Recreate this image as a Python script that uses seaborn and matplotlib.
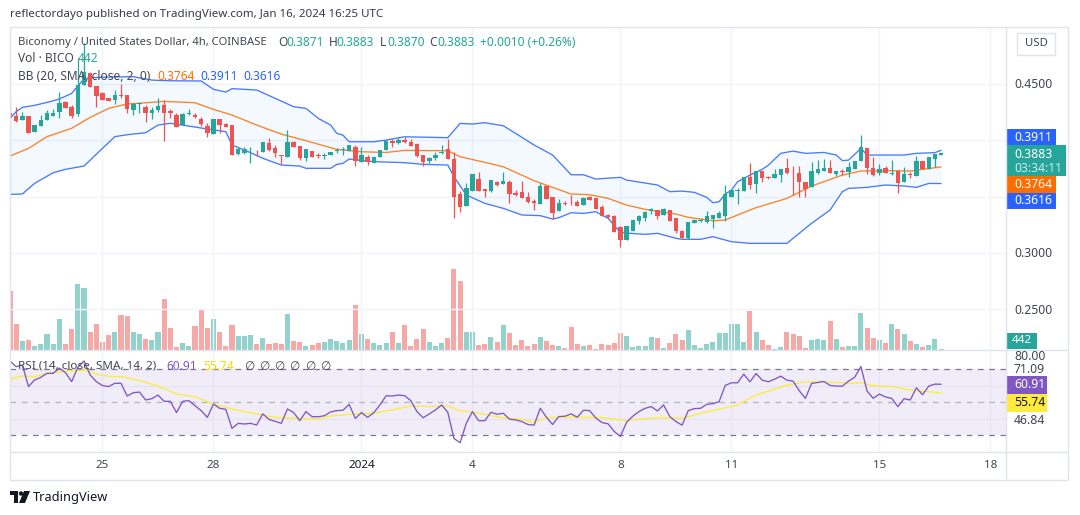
import numpy as np
import pandas as pd
import matplotlib
matplotlib.use("Agg")
import matplotlib.pyplot as plt
from matplotlib.patches import Rectangle, Circle, Polygon
import seaborn as sns

opens = [.4239,.4215,.4180,.4215,.4076,.4126,.4180,.4215,.4251,.4342,.4292,.4233,.4490,.4600,.4481,.4416,.4378,.4357,.4401,.4398,
 .4268,.4322,.4292,.4245,.4268,.4313,.4259,.4224,.4138,.4236,.4227,.4191,.4126,.4058,.4186,.4144,.4135,.3878,.3890,.3919,
 .3908,.3899,.3973,.3928,.3869,.3854,.3984,.3949,.3840,.3905,.3869,.3863,.3872,.3908,.3910,.3907,.3940,.3810,.3851,.3801,
 .3851,.3913,.3993,.3978,.4002,.3984,.3966,.3869,.3816,.3842,.3889,.3922,.3830,.3523,.3416,.3552,.3656,.3564,.3546,.3629,
 .3615,.3629,.3535,.3541,.3496,.3464,.3437,.3594,.3493,.3372,.3443,.3470,.3449,.3428,.3496,.3487,.3405,.3337,.3328,.3230,
 .3118,.3192,.3283,.3313,.3372,.3381,.3337,.3381,.3310,.3198,.3133,.3269,.3286,.3274,.3301,.3313,.3328,.3496,.3549,.3552,
 .3674,.3615,.3727,.3671,.3665,.3694,.3753,.3709,.3709,.3629,.3585,.3712,.3727,.3753,.3700,.3727,.3718,.3745,.3816,.3931,
 .3753,.3709,.3753,.3703,.3727,.3629,.3703,.3682,.3816,.3745,.3833,.3871]
highs = [.4387,.4292,.4254,.4215,.4135,.4224,.4268,.4274,.4428,.4351,.4313,.4727,.4863,.4600,.4481,.4431,.4378,.4446,.4499,.4398,
 .4333,.4330,.4313,.4292,.4372,.4357,.4274,.4245,.4245,.4274,.4239,.4203,.4150,.4186,.4186,.4150,.4135,.3943,.3937,.3943,
 .3914,.3984,.4017,.3958,.3869,.4091,.3996,.3949,.3919,.3908,.3884,.3884,.3896,.3928,.3937,.3958,.3958,.3937,.3869,.3851,
 .3913,.4002,.4008,.4026,.4026,.4011,.3978,.3869,.3854,.3898,.3958,.4011,.3892,.3552,.3617,.3700,.3718,.3564,.3647,.3641,
 .3718,.3647,.3558,.3641,.3541,.3478,.3623,.3603,.3493,.3478,.3458,.3514,.3470,.3496,.3508,.3487,.3425,.3345,.3337,.3239,
 .3239,.3292,.3340,.3375,.3396,.3381,.3399,.3381,.3310,.3204,.3274,.3304,.3307,.3372,.3334,.3372,.3603,.3558,.3579,.3674,
 .3798,.3727,.3727,.3685,.3742,.3745,.3845,.3771,.3771,.3629,.3810,.3824,.3833,.3824,.3727,.3748,.3810,.3816,.4046,.3931,
 .3851,.3789,.3771,.3824,.3736,.3762,.3715,.3860,.3816,.3851,.3878,.3883]
lows = [.4180,.4165,.4180,.4061,.4076,.4126,.4180,.4215,.4200,.4289,.4194,.4215,.4490,.4475,.4298,.4357,.4348,.4322,.4378,.4239,
 .4227,.4245,.4165,.4186,.4254,.3996,.4194,.4115,.4138,.4221,.4194,.4126,.4026,.4058,.4061,.4115,.3872,.3869,.3878,.3795,
 .3860,.3899,.3908,.3848,.3789,.3848,.3937,.3825,.3819,.3854,.3842,.3831,.3872,.3890,.3869,.3907,.3774,.3810,.3780,.3801,
 .3851,.3913,.3943,.3966,.3978,.3952,.3851,.3774,.3801,.3824,.3878,.3833,.3313,.3366,.3416,.3552,.3552,.3499,.3541,.3594,
 .3615,.3446,.3505,.3490,.3446,.3381,.3437,.3481,.3298,.3372,.3422,.3428,.3416,.3428,.3470,.3390,.3328,.3298,.3189,.3056,
 .3118,.3192,.3260,.3286,.3345,.3301,.3337,.3286,.3180,.3133,.3121,.3269,.3271,.3263,.3221,.3313,.3286,.3496,.3434,.3552,
 .3570,.3535,.3632,.3656,.3665,.3632,.3700,.3511,.3493,.3493,.3585,.3700,.3727,.3712,.3685,.3691,.3677,.3745,.3816,.3700,
 .3685,.3691,.3709,.3691,.3535,.3629,.3668,.3682,.3745,.3745,.3762,.3870]
closes = [.4194,.4174,.4215,.4061,.4135,.4180,.4239,.4239,.4327,.4289,.4215,.4490,.4602,.4475,.4395,.4357,.4348,.4401,.4395,.4280,
 .4322,.4330,.4245,.4268,.4304,.4245,.4245,.4120,.4233,.4242,.4203,.4144,.4067,.4186,.4135,.4120,.3872,.3919,.3919,.3925,
 .3902,.3984,.3914,.3884,.3863,.3984,.3943,.3842,.3919,.3854,.3863,.3869,.3896,.3914,.3919,.3958,.3819,.3869,.3804,.3851,
 .3913,.3996,.3978,.4002,.3987,.3952,.3860,.3810,.3842,.3869,.3895,.3833,.3496,.3410,.3573,.3700,.3552,.3549,.3647,.3603,
 .3638,.3526,.3511,.3490,.3455,.3446,.3594,.3481,.3357,.3440,.3437,.3467,.3416,.3487,.3470,.3390,.3328,.3322,.3189,.3118,
 .3239,.3292,.3331,.3366,.3387,.3331,.3390,.3286,.3198,.3133,.3274,.3292,.3292,.3328,.3334,.3357,.3523,.3558,.3555,.3674,
 .3606,.3727,.3665,.3665,.3700,.3745,.3709,.3706,.3629,.3570,.3727,.3745,.3753,.3712,.3727,.3718,.3762,.3816,.3940,.3753,
 .3691,.3745,.3709,.3709,.3620,.3703,.3688,.3816,.3745,.3851,.3878,.3883]
volumes = [21900,9600,3300,3700,1500,2200,5900,2200,11400,2200,7700,24400,22900,6600,9600,3000,5500,6600,12900,12500,
 6600,5900,4100,3700,6600,18800,8100,1100,2600,1500,8900,15100,8100,11400,6600,1500,9200,5200,5200,5500,
 2200,4400,2200,2600,2200,13300,3300,3000,1500,1800,2600,3000,4100,3300,2600,3700,16600,5900,4100,2600,
 1800,2600,6600,2600,9200,1500,4100,7700,3000,1500,2600,4400,29900,25500,6600,6600,1800,2200,4800,3000,
 9200,6300,1800,3700,1500,2200,4800,3300,1800,1500,700,8500,2200,1500,1800,400,2200,1800,2600,6300,
 5200,1100,1500,1500,4800,4400,700,2600,5900,3700,7400,1800,700,2200,3000,6300,6300,9600,9600,3000,
 14400,6600,3700,1800,400,1100,6600,5900,5200,700,3700,3900,3700,10700,4100,1100,1500,1500,13700,8100,
 4400,3700,2600,9600,7700,5900,3300,2200,1100,1800,4100,442]

bb_upper_idx = [0,1,2,4,6,8,10,11,12,13,16,20,23,26,31,33,35,36,40,43,46,48,50,52,53,54,55,59,61,64,71,73,75,77,80,82,85,88,91,93,95,99,100,105,107,
 109,111,113,114,115,116,117,118,120,122,123,125,127,129,132,134,135,136,138,139,145,147,150,151]
bb_upper = [.4194,.4254,.4292,.4310,.4336,.4366,.4416,.4481,.4546,.4555,.4561,.4564,.4534,.4528,.4526,.4452,.4428,.4458,.4446,.4372,.4298,.4283,.4194,.4135,.4061,.4046,.3987,.3987,.4002,.4031,.4023,.4150,.4144,.4156,.4129,.4061,.3958,.3869,.3694,.3694,.3656,.3671,.3647,.3603,.3544,
 .3549,.3538,.3493,.3446,.3455,.3523,.3558,.3632,.3691,.3742,.3780,.3884,.3904,.3884,.3892,.3869,.3819,.3824,.3928,.3869,.3869,.3884,.3890,.3911]
bb_basis_idx = [0,3,6,10,13,16,19,22,25,30,33,36,40,44,48,53,57,61,64,71,73,77,80,85,91,94,97,100,103,108,110,114,116,118,121,126,130,135,138,143,146,151]
bb_basis = [.3860,.3928,.4032,.4106,.4203,.4283,.4322,.4333,.4345,.4333,.4274,.4224,.4135,.4055,.3996,.3919,.3898,.3892,.3910,.3907,.3854,.3804,.3765,.3641,.3523,.3517,.3484,.3425,.3387,.3345,.3316,.3286,.3292,.3337,.3402,.3484,.3594,.3691,.3727,.3730,.3727,.3764]
bb_lower_idx = [0,2,4,7,9,12,15,17,19,22,24,26,29,32,35,36,39,41,44,47,48,52,53,54,55,59,64,67,71,72,74,77,80,83,86,88,89,91,93,95,97,99,103,105,108,
 109,112,114,117,120,126,127,130,133,135,136,139,142,145,147,149,151]
bb_lower = [.3520,.3523,.3618,.3712,.3742,.3771,.3928,.4032,.4049,.4067,.4135,.4150,.4126,.4100,.4076,.3958,.3890,.3840,.3780,.3771,.3751,.3751,.3786,.3795,.3833,.3810,.3801,.3786,.3780,.3677,.3514,.3440,.3396,.3337,.3331,.3301,.3313,.3357,.3351,.3366,.3307,.3180,.3165,.3174,.3130,
 .3121,.3121,.3144,.3100,.3085,.3085,.3130,.3263,.3381,.3544,.3573,.3582,.3603,.3594,.3582,.3617,.3616]

rsi = [75.0,71.5,72.6,59.5,63.5,65.1,67.5,67.5,70.7,67.9,62.5,71.1,75.0,66.5,62.5,60.1,59.5,61.5,61.5,53.8,
 55.8,56.2,51.4,52.2,54.4,50.6,50.6,43.8,50.6,51.0,48.0,45.0,40.9,49.0,46.4,45.8,34.3,37.3,36.9,37.3,
 36.3,43.0,39.7,38.5,37.3,46.0,43.8,38.9,44.4,41.3,41.3,41.9,44.2,45.0,45.2,48.8,40.3,43.8,40.9,43.8,
 48.4,54.0,53.8,54.4,54.0,51.0,44.4,40.7,43.0,45.4,48.4,44.0,28.2,25.6,37.3,44.4,38.9,38.9,44.0,42.8,
 43.4,39.8,39.4,38.4,36.6,36.2,46.4,41.0,36.6,41.4,41.6,43.0,41.0,45.2,45.0,40.6,37.8,37.0,32.4,29.4,
 38.0,41.6,44.4,46.4,47.4,44.8,48.4,41.4,38.4,36.2,45.0,46.2,46.4,48.8,49.2,50.4,60.2,61.8,61.8,67.0,
 62.4,67.4,63.4,62.4,64.0,65.8,63.4,62.8,57.0,52.4,61.4,62.0,62.6,60.2,59.8,59.8,62.8,65.2,71.6,56.8,
 52.4,55.0,53.2,52.4,47.4,52.2,51.4,58.8,54.6,59.8,61.0,60.91]
rsi_ma_idx = [0,2,4,6,9,12,14,16,18,21,24,27,30,33,36,40,43,47,50,52,56,59,62,65,68,71,73,76,80,83,85,87,91,96,100,105,109,112,118,121,126,129,134,137,138,140,143,146,151]
rsi_ma = [63.9,65.9,65.5,67.5,68.9,69.5,67.1,65.7,65.5,63.1,59.9,55.0,53.4,49.0,46.0,43.0,40.9,40.3,39.9,41.7,43.0,43.4,45.4,47.8,47.4,47.8,45.0,43.4,40.6,39.8,37.8,40.8,41.0,40.8,39.0,40.8,40.4,43.4,48.4,54.4,60.4,62.4,62.0,61.4,62.0,60.0,59.6,57.4,55.74]

date_labels = ["25","28","2024","4","8","11","15","18"]
date_bars = [15,33,57,75,99,117,141,159]
price_grid = [.45,.40,.35,.30,.25]

assert len(opens)==len(highs)==len(lows)==len(closes)==len(volumes)==len(rsi)==152, (len(opens),len(highs),len(lows),len(closes),len(volumes),len(rsi))
assert len(bb_upper)==len(bb_upper_idx) and len(bb_basis)==len(bb_basis_idx) and len(bb_lower)==len(bb_lower_idx) and len(rsi_ma)==len(rsi_ma_idx)

W, H = 1080, 515
sns.set_theme(style="white")
plt.rcParams['font.family'] = ['Noto Sans', 'DejaVu Sans']
UP, DOWN = "#26a69a", "#ef5350"
BLUE, ORANGE, PURPLE, YELLOW = "#2962ff", "#ff6d00", "#7e57c2", "#ffeb3b"
GRID = "#f0f3fa"
TXT = "#434651"
fig = plt.figure(figsize=(W/100, H/100), dpi=100, facecolor="white")

def axpx(l, t, r, b, **kw):
    return fig.add_axes([l/W, 1-b/H, (r-l)/W, (b-t)/H], **kw)
def T(x, y, s, color=TXT, size=8.6, ha="left", va="center", **kw):
    return fig.text(x/W, 1-y/H, s, color=color, fontsize=size, ha=ha, va=va, zorder=20, **kw)

L, R = 10, 1006
idx = np.arange(len(opens))
df = pd.DataFrame(dict(i=idx, o=opens, h=highs, l=lows, c=closes, v=volumes, rsi=rsi))
df["dir"] = np.where(df.c >= df.o, "up", "down")
xlim = (0, (R-L)/6.166)

# volume pane (shares the price pane's area)
axv = axpx(L, 27, R, 350)
sns.barplot(data=df, x="i", y="v", hue="dir", hue_order=["up","down"], palette={"up":UP,"down":DOWN},
            native_scale=True, dodge=False, width=1.0, saturation=1, alpha=0.5, legend=False, ax=axv)
for bar in axv.patches:
    cx = bar.get_x() + bar.get_width()/2
    bar.set_width(0.82); bar.set_x(cx - 0.41); bar.set_linewidth(0)
axv.set_xlim(*xlim); axv.set_ylim(0, 119000)
axv.set_axis_off()

# price pane
ax = axpx(L, 27, R, 350)
ax.patch.set_alpha(0)
ax.set_xlim(*xlim); ax.set_ylim(.2139, .5005)
for p in price_grid:
    ax.axhline(p, color=GRID, lw=1, zorder=0)
for b in date_bars:
    ax.axvline(b, color=GRID, lw=1, zorder=0)
ax.fill(list(bb_upper_idx)+list(bb_lower_idx)[::-1], list(bb_upper)+list(bb_lower)[::-1],
        color="#2196f3", alpha=0.05, lw=0, zorder=1)
sns.lineplot(x=bb_upper_idx, y=bb_upper, color=BLUE, lw=0.95, alpha=.85, ax=ax, zorder=2, estimator=None)
sns.lineplot(x=bb_lower_idx, y=bb_lower, color=BLUE, lw=0.95, alpha=.85, ax=ax, zorder=2, estimator=None)
sns.lineplot(x=bb_basis_idx, y=bb_basis, color=ORANGE, lw=0.95, alpha=.85, ax=ax, zorder=2, estimator=None)
cols = [UP if d == "up" else DOWN for d in df.dir]
ax.vlines(df.i, df.l, df.h, colors=cols, lw=0.9, zorder=3)
tops = df[["o","c"]].max(axis=1); bots = df[["o","c"]].min(axis=1)
ax.bar(df.i, np.maximum(tops-bots, .0006), bottom=bots, width=0.72, color=cols, lw=0, zorder=4)
ax.set_xlim(*xlim); ax.set_ylim(.2139, .5005)
ax.set_xticks([]); ax.set_yticks([]); ax.set_xlabel(""); ax.set_ylabel("")
for s in ax.spines.values(): s.set_visible(False)

# RSI pane
ar = axpx(L, 350, R, 452)
ar.set_xlim(*xlim); ar.set_ylim(20, 81.6)
ar.axhspan(30, 70, color=PURPLE, alpha=0.1, lw=0, zorder=1)
for b in date_bars: ar.axvline(b, color=GRID, lw=1, zorder=0)
for g in (40, 60): ar.axhline(g, color="#e6e3ee", lw=1, zorder=1.5)
ar.axhline(70, color="#787b86", lw=0.9, ls=(0,(4.5,4.5)), zorder=2)
ar.axhline(50, color="#b2b5be", lw=0.9, ls=(0,(4.5,4.5)), zorder=2)
ar.axhline(30, color="#787b86", lw=0.9, ls=(0,(4.5,4.5)), zorder=2)
sns.lineplot(x=rsi_ma_idx, y=rsi_ma, color=YELLOW, lw=0.95, ax=ar, zorder=3, estimator=None)
sns.lineplot(data=df, x="i", y="rsi", color=PURPLE, lw=0.95, ax=ar, zorder=4, estimator=None)
ar.set_xlim(*xlim); ar.set_ylim(20, 81.6)
ar.set_xticks([]); ar.set_yticks([]); ar.set_xlabel(""); ar.set_ylabel("")
for s in ar.spines.values(): s.set_visible(False)

# frame lines
fo = fig.add_axes([0,0,1,1], zorder=10); fo.set_xlim(0,W); fo.set_ylim(H,0); fo.set_axis_off(); fo.patch.set_alpha(0)
EDGE = "#e0e3eb"
for a,b,c,d in [(10,27,1068,27),(10,27,10,480),(10,480,1068,480),(1068,27,1068,480),(1006,27,1006,480),(10,350,1068,350),(10,452,1068,452)]:
    fo.plot([a,c],[b,d], color=EDGE, lw=1, solid_capstyle="butt")

# top texts
T(10, 15, "reflectordayo published on TradingView.com, Jan 16, 2024 16:25 UTC", color="#363a45", size=8.3)
T(18, 42, "Biconomy / United States Dollar, 4h, COINBASE", size=8.1)
for xl, lab, xv, val in [(278,"O",286,"0.3871"),(329,"H",336,"0.3883"),(380,"L",387,"0.3870"),(429,"C",437,"0.3883")]:
    T(xl, 42, lab); T(xv, 42, val, color=UP)
T(480, 42, "+0.0010 (+0.26%)", color=UP)
T(18, 59, "Vol · BICO"); T(78, 59, "442", color=UP)
T(18, 76, "BB (20, SMA, close, 2, 0)")
T(157, 76, "0.3764", color=ORANGE); T(200, 76, "0.3911", color=BLUE); T(243, 76, "0.3616", color=BLUE)
T(18, 366, "RSI (14, close, SMA, 14, 2)", size=8.4)
T(166, 366, "60.91", color=PURPLE); T(203, 366, "55.74", color="#f5d90a")
for xn in (244,259,274,289,305,320): T(xn, 366, "∅", color=TXT)

# price scale labels
fo.add_patch(Rectangle((1017,33),38,22,fc="white",ec=EDGE,lw=1))
T(1036, 44, "USD", ha="center", size=8.2)
for yp, s in [(84,"0.4500"),(253.5,"0.3000"),(311,"0.2500"),(356,"80.00"),(369.5,"71.09"),(421,"46.84")]:
    T(1014, yp, s, size=8.8)
def box(x0,y0,x1,y1,c):
    fo.add_patch(Rectangle((x0,y0),x1-x0,y1-y0,fc=c,ec="none"))
box(1006,129,1056,146,BLUE); T(1014,137.5,"0.3911",color="white",size=8.8,fontweight="bold")
box(1006,145,1066,176,UP); T(1014,154,"0.3883",color="white",size=8.8,fontweight="bold"); T(1014,168,"03:34:11",color="#c9eae6",size=8.8)
box(1006,176,1056,193,"#ff6d00"); T(1014,184.5,"0.3764",color="white",size=8.8,fontweight="bold")
box(1006,193,1056,209,BLUE); T(1014,201,"0.3616",color="white",size=8.8,fontweight="bold")
box(1006,333,1037,349,UP); T(1012,340.5,"442",color="white",size=8.4,fontweight="bold")
box(1006,376,1047,394,PURPLE); T(1014,385,"60.91",color="white",size=8.8,fontweight="bold")
box(1006,394,1047,412,YELLOW); T(1014,403,"55.74",color="#131722",size=8.8)

# date labels
for b, s in zip(date_bars, date_labels):
    xp = L + b*6.166
    T(xp, 465, s, ha="center", size=8.4, color="#131722" if s=="2024" else TXT, fontweight="bold" if s=="2024" else "normal")

# logo and brand
fo.add_patch(Polygon([(10,491),(18,491),(18,503),(14,503),(14,495),(10,495)],fc="#131722",ec="none"))
fo.add_patch(Circle((21,493.5),2.2,fc="#131722",ec="none"))
fo.add_patch(Polygon([(24,491),(30,491),(25,503),(19,503)],fc="#131722",ec="none"))
T(33, 497, "TradingView", color="#131722", size=9.2, fontweight="medium")

fig.savefig("out.png", dpi=100, facecolor="white")
